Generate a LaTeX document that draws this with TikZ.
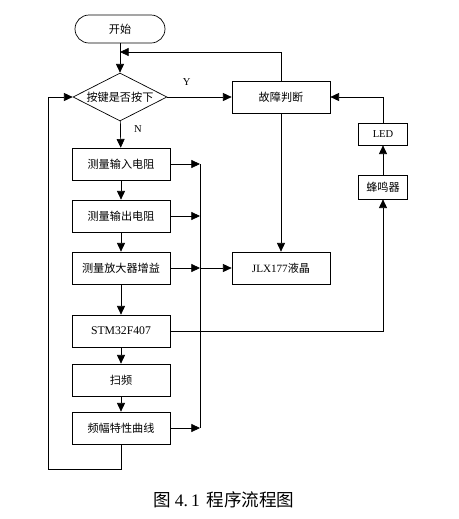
\documentclass[tikz,border=0pt]{standalone}
\usepackage{fontspec}
\setmainfont{Liberation Serif}
\newfontfamily\cjk{Noto Sans CJK SC}
\usetikzlibrary{arrows.meta}
\usetikzlibrary{shapes.geometric,calc}

\tikzset{
  box/.style={draw, line width=0.6pt, minimum width=2.94cm, minimum height=0.96cm,
    inner sep=0pt, font=\cjk\fontsize{9.5}{11}\selectfont},
  smallbox/.style={draw, line width=0.6pt, minimum width=1.47cm, minimum height=0.72cm,
    inner sep=0pt, font=\cjk\fontsize{9.5}{11}\selectfont},
  flow/.style={line width=0.6pt, -{Triangle[length=2.6mm,width=2.4mm]}},
  wire/.style={line width=0.6pt},
  tag/.style={font=\fontsize{9}{10}\selectfont}
}

\begin{document}
\begin{tikzpicture}[x=0.03cm,y=-0.03cm]

		\useasboundingbox (0,0) rectangle (459,519);

		\node [draw, line width=0.6pt, rounded corners=0.42cm, minimum width=2.7cm,
		       minimum height=0.84cm, font=\cjk\fontsize{9.5}{11}\selectfont] (start) at (120,29) {开始};
		\node [draw, diamond, line width=0.6pt, aspect=2, inner sep=0pt, minimum width=2.82cm,
		       minimum height=1.44cm, font=\cjk\fontsize{9.5}{11}\selectfont] (key) at (120,97) {按键是否按下};

		\node [box] (fault) at (281,97) {故障判断};
		\node [box] (rin)   at (121,164) {测量输入电阻};
		\node [box] (rout)  at (121,216) {测量输出电阻};
		\node [box] (gain)  at (121,268) {测量放大器增益};
		\node [box, font=\fontsize{10}{12}\selectfont] (mcu) at (121,331) {STM32F407};
		\node [box] (sweep) at (121,380) {扫频};
		\node [box] (curve) at (121,428) {频幅特性曲线};
		\node [box] (lcd)   at (281,268) {{\rmfamily JLX177}液晶};
		\node [smallbox, minimum height=0.66cm, font=\fontsize{9}{11}\selectfont] (led) at (383,134) {LED};
		\node [smallbox] (buzz) at (383,187) {蜂鸣器};

		\coordinate (J) at (120,52);
		\coordinate (B) at (200,268);

		% main column
		\draw [flow] (start) -- (key);
		\draw [flow] (key) -- (rin) node [tag, pos=0.3, right=8pt] {N};
		\draw [flow] (rin) -- (rout);
		\draw [flow] (rout) -- (gain);
		\draw [flow] (gain) -- (mcu);
		\draw [flow] (mcu) -- (sweep);
		\draw [flow] (sweep) -- (curve);

		% yes branch
		\draw [flow] (key.east) -- (fault.west) node [tag, pos=0.3, above=6pt] {Y};
		\draw [wire] (fault.north) |- ($(J)+(4,0)$);
		\draw [flow] (fault.north |- J) -- (J);
		\draw [flow] (fault) -- (lcd);

		% bus to display
		\draw [wire] (200,164) -- (200,428);
		\draw [flow] (rin.east) -- (rin.east -| B);
		\draw [flow] (rout.east) -- (rout.east -| B);
		\draw [flow] (gain.east) -- (gain.east -| B);
		\draw [flow] (curve.east) -- (curve.east -| B);
		\draw [flow] (B) -- (lcd.west);

		% alarm
		\draw [flow] (mcu.east) -| (buzz.south);
		\draw [flow] (buzz) -- (led);
		\draw [flow] (led.north) |- (fault.east);

		% loop back
		\draw [flow] (curve.south) -- ++(0,25) -| (48,97) -- (key.west);

		\node [font=\cjk\fontsize{15}{17}\selectfont] (cap) at (224,500)
		      {图 {\rmfamily 4.\,1}\, 程序流程图};

\end{tikzpicture}
\end{document}
